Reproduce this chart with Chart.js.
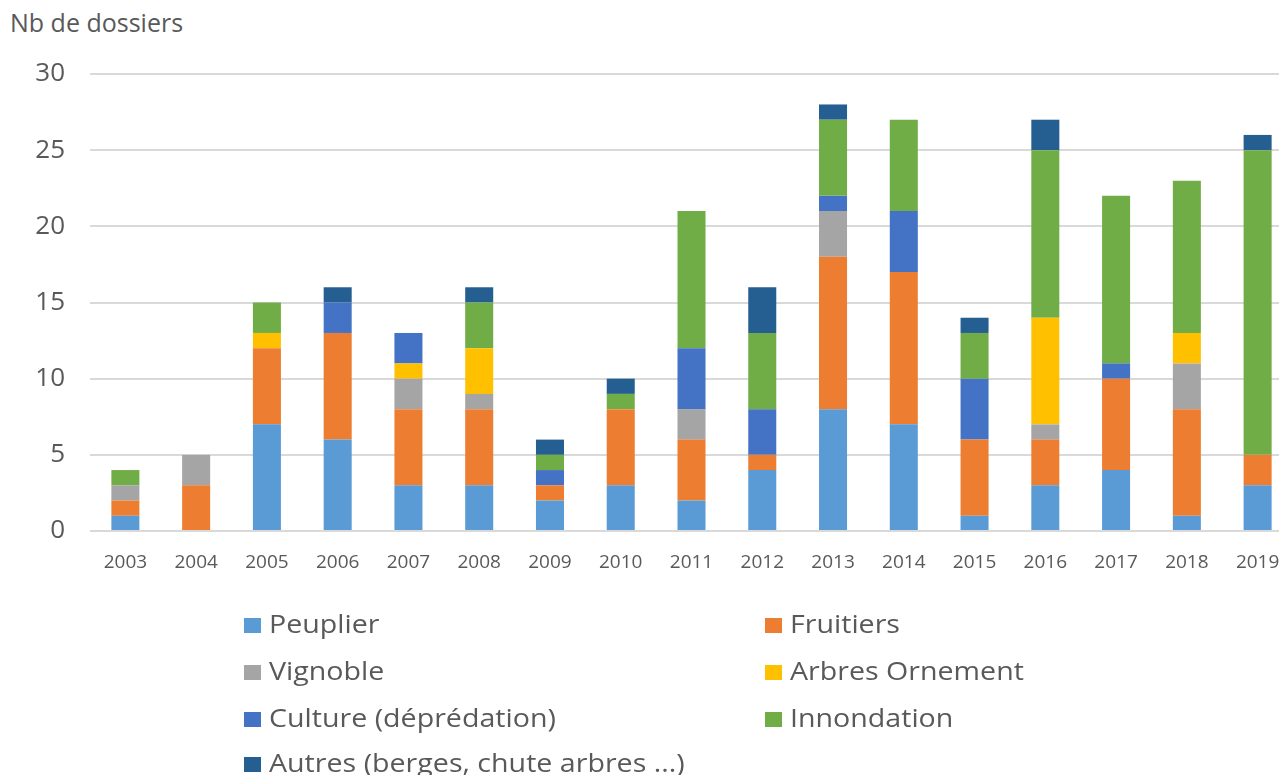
<!DOCTYPE html>
<html>
<head>
<meta charset="utf-8">
<script src="https://cdn.jsdelivr.net/npm/chart.js@4"></script>
<style>
  html, body { margin:0; padding:0; background:#fff; width:1279px; height:775px; overflow:hidden; }
  #wrap { position:absolute; left:0; top:0; width:1302px; height:581px; }
  #title { position:absolute; left:10px; top:10px; font-family:"Open Sans", sans-serif; font-size:25px; line-height:1; color:#595959; white-space:nowrap; }
  #legend { position:absolute; left:0; top:0; width:1279px; height:775px; pointer-events:none; font-family:"Open Sans", sans-serif; font-size:26px; line-height:1; color:#595959; }
  .txt { position:absolute; white-space:nowrap; transform-origin:0 0; transform:scaleX(1.1); }
  .box { position:absolute; width:17px; height:15px; }
</style>
</head>
<body>
<div id="title">Nb de dossiers</div>
<div id="wrap"><canvas id="c" width="1302" height="581"></canvas></div>
<div id="legend"></div>
<script>
const years = ["2003","2004","2005","2006","2007","2008","2009","2010","2011","2012","2013","2014","2015","2016","2017","2018","2019"];
const yTicks = [0,5,10,15,20,25,30];
const peuplier    = [1,0,7,6,3,3,2,3,2,4,8,7,1,3,4,1,3];
const fruitiers   = [1,3,5,7,5,5,1,5,4,1,10,10,5,3,6,7,2];
const vignoble    = [1,2,0,0,2,1,0,0,2,0,3,0,0,1,0,3,0];
const ornement    = [0,0,1,0,1,3,0,0,0,0,0,0,0,7,0,2,0];
const culture     = [0,0,0,2,2,0,1,0,4,3,1,4,4,0,1,0,0];
const innondation = [1,0,2,0,0,3,1,1,9,5,5,6,3,11,11,10,20];
const autres      = [0,0,0,1,0,1,1,1,0,3,1,0,1,2,0,0,1];

const seriesNames = ["Peuplier","Fruitiers","Vignoble","Arbres Ornement","Culture (déprédation)","Innondation","Autres (berges, chute arbres ...)"];
const seriesData = [peuplier,fruitiers,vignoble,ornement,culture,innondation,autres];
const colors = ["#5B9BD5","#ED7D31","#A5A5A5","#FFC000","#4472C4","#70AD47","#255E91"];

const datasets = seriesNames.map((n,i)=>({
  label:n, data:seriesData[i], backgroundColor:colors[i], borderWidth:0,
  categoryPercentage:1, barPercentage:0.396
}));

new Chart(document.getElementById('c'), {
  type:'bar',
  data:{labels:years, datasets},
  options:{
    responsive:false, animation:false,
    layout:{padding:{left:0,right:9,top:74,bottom:0}},
    plugins:{legend:{display:false}, tooltip:{enabled:false}},
    scales:{
      x:{stacked:true,
         grid:{display:false, drawTicks:false},
         border:{display:false},
         ticks:{color:'#595959', font:{family:'"Open Sans", sans-serif', size:19}, padding:20, maxRotation:0, autoSkip:false},
         afterFit:(s)=>{s.height=50;}
      },
      y:{stacked:true, min:0, max:30,
         afterBuildTicks:(s)=>{s.ticks=yTicks.map(v=>({value:v}));},
         grid:{color:'#D9D9D9', lineWidth:2, drawTicks:false},
         border:{display:false},
         ticks:{color:'#595959', font:{family:'"Open Sans", sans-serif', size:26}, padding:25},
         afterFit:(s)=>{s.width=90;}
      }
    }
  }
});

const leg = document.getElementById('legend');
const pos = [[244,633],[765,633],[244,680],[765,680],[244,727],[765,727],[244,772]];
seriesNames.forEach((n,i)=>{
  const b=document.createElement('div'); b.className='box'; b.style.background=colors[i];
  b.style.left=pos[i][0]+'px'; b.style.top=(pos[i][1]-15)+'px';
  const t=document.createElement('div'); t.className='txt'; t.textContent=n;
  t.style.left=(pos[i][0]+25)+'px'; t.style.top=(pos[i][1]-23)+'px';
  leg.appendChild(b); leg.appendChild(t);
});
</script>
</body>
</html>
